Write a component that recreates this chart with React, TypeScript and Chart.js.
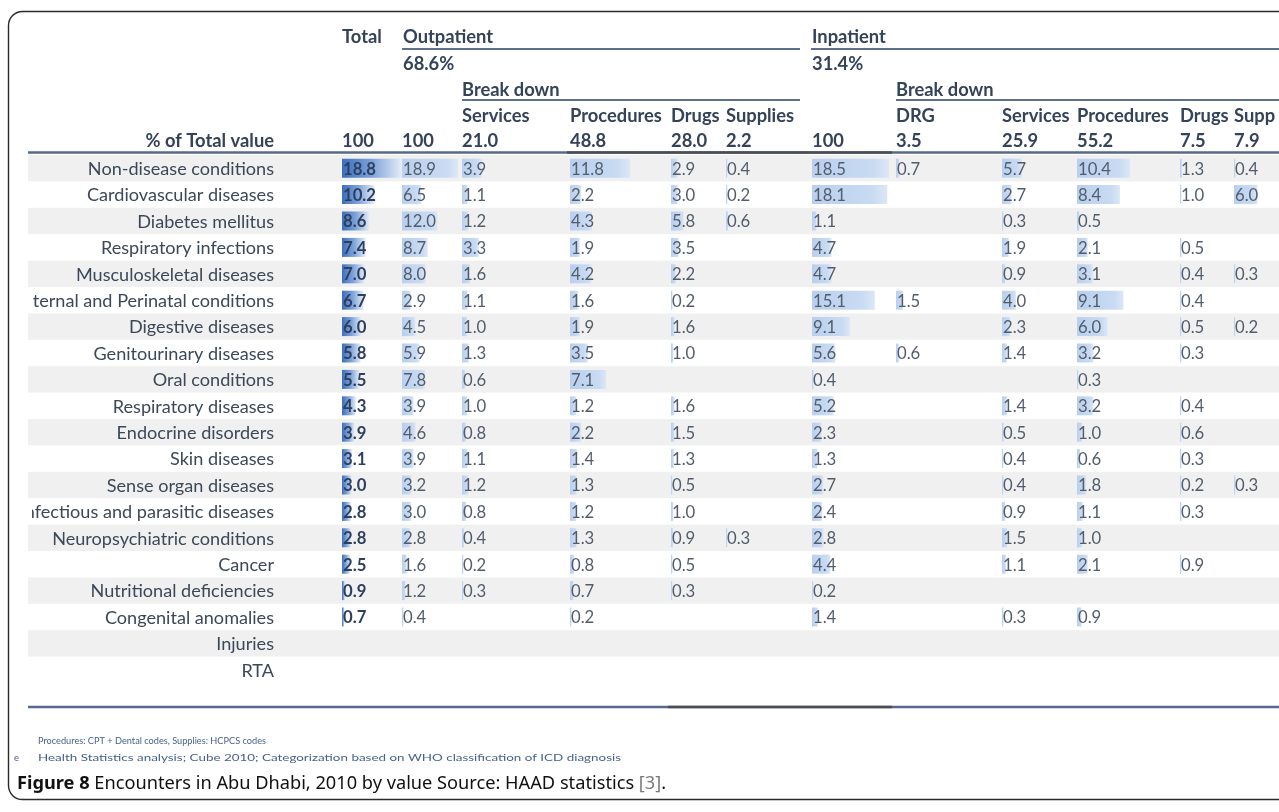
import { useEffect, useRef } from 'react';
import { Chart, registerables } from 'chart.js';

Chart.register(...registerables);

const N = null;

const ROW_LABELS = [
  'Non-disease conditions',
  'Cardiovascular diseases',
  'Diabetes mellitus',
  'Respiratory infections',
  'Musculoskeletal diseases',
  'Maternal and Perinatal conditions',
  'Digestive diseases',
  'Genitourinary diseases',
  'Oral conditions',
  'Respiratory diseases',
  'Endocrine disorders',
  'Skin diseases',
  'Sense organ diseases',
  'Infectious and parasitic diseases',
  'Neuropsychiatric conditions',
  'Cancer',
  'Nutritional deficiencies',
  'Congenital anomalies',
  'Injuries',
  'RTA',
];

const TOTAL = [18.8, 10.2, 8.6, 7.4, 7.0, 6.7, 6.0, 5.8, 5.5, 4.3, 3.9, 3.1, 3.0, 2.8, 2.8, 2.5, 0.9, 0.7, N, N];
const OUT_TOTAL = [18.9, 6.5, 12.0, 8.7, 8.0, 2.9, 4.5, 5.9, 7.8, 3.9, 4.6, 3.9, 3.2, 3.0, 2.8, 1.6, 1.2, 0.4, N, N];
const OUT_SERVICES = [3.9, 1.1, 1.2, 3.3, 1.6, 1.1, 1.0, 1.3, 0.6, 1.0, 0.8, 1.1, 1.2, 0.8, 0.4, 0.2, 0.3, N, N, N];
const OUT_PROCEDURES = [11.8, 2.2, 4.3, 1.9, 4.2, 1.6, 1.9, 3.5, 7.1, 1.2, 2.2, 1.4, 1.3, 1.2, 1.3, 0.8, 0.7, 0.2, N, N];
const OUT_DRUGS = [2.9, 3.0, 5.8, 3.5, 2.2, 0.2, 1.6, 1.0, N, 1.6, 1.5, 1.3, 0.5, 1.0, 0.9, 0.5, 0.3, N, N, N];
const OUT_SUPPLIES = [0.4, 0.2, 0.6, N, N, N, N, N, N, N, N, N, N, N, 0.3, N, N, N, N, N];
const IN_TOTAL = [18.5, 18.1, 1.1, 4.7, 4.7, 15.1, 9.1, 5.6, 0.4, 5.2, 2.3, 1.3, 2.7, 2.4, 2.8, 4.4, 0.2, 1.4, N, N];
const IN_DRG = [0.7, N, N, N, N, 1.5, N, 0.6, N, N, N, N, N, N, N, N, N, N, N, N];
const IN_SERVICES = [5.7, 2.7, 0.3, 1.9, 0.9, 4.0, 2.3, 1.4, N, 1.4, 0.5, 0.4, 0.4, 0.9, 1.5, 1.1, N, 0.3, N, N];
const IN_PROCEDURES = [10.4, 8.4, 0.5, 2.1, 3.1, 9.1, 6.0, 3.2, 0.3, 3.2, 1.0, 0.6, 1.8, 1.1, 1.0, 2.1, N, 0.9, N, N];
const IN_DRUGS = [1.3, 1.0, N, 0.5, 0.4, 0.4, 0.5, 0.3, N, 0.4, 0.6, 0.3, 0.2, 0.3, N, 0.9, N, N, N, N];
const IN_SUPPLIES = [0.4, 6.0, N, N, 0.3, N, 0.2, N, N, N, N, N, 0.3, N, N, N, N, N, N, N];

const COLUMN_NAMES = ['Total', 'Outpatient', 'Services', 'Procedures', 'Drugs', 'Supplies', 'Inpatient', 'DRG', 'Services', 'Procedures', 'Drugs', 'Supplies'];
const COLUMN_TOTALS = ['100', '100', '21.0', '48.8', '28.0', '2.2', '100', '3.5', '25.9', '55.2', '7.5', '7.9'];
const GROUP_SHARES = ['68.6%', '31.4%'];
const BREAKDOWN_LABEL = 'Break down';
const TOTAL_ROW_LABEL = '% of Total value';
const FOOTNOTES = [
  'Procedures: CPT + Dental codes, Supplies: HCPCS codes',
  'Health Statistics analysis; Cube 2010; Categorization based on WHO classification of ICD diagnosis',
];
const CAPTION_BOLD = 'Figure 8';
const CAPTION_TEXT = ' Encounters in Abu Dhabi, 2010 by value Source: HAAD statistics ';
const CAPTION_REF = '[3]';

const COLUMNS = [TOTAL, OUT_TOTAL, OUT_SERVICES, OUT_PROCEDURES, OUT_DRUGS, OUT_SUPPLIES, IN_TOTAL, IN_DRG, IN_SERVICES, IN_PROCEDURES, IN_DRUGS, IN_SUPPLIES];

// ---- layout / style (not data) ----
const W = 1279;
const H = 812;
const COL_X = [342, 402, 462, 570, 671, 726, 812, 896, 1002, 1077, 1180, 1234];
const BAR_PX_PER_UNIT = [3.2, 2.96, 5.1, 5.1, 2.2, 3.3, 4.16, 4.7, 3.5, 5.1, 1.5, 3.9];
const TABLE_LEFT = 28;
const LABEL_CLIP = 32;
const LABEL_RIGHT = 274;
const FONT = 'Lato';

function fitSize(ctx: CanvasRenderingContext2D, text: string, weight: string, family: string, target: number) {
  ctx.font = `${weight} 20px ${family}`;
  const w = ctx.measureText(text).width;
  return (20 * target) / w;
}

function barFill(context: any, isTotal: boolean) {
  const chart = context.chart;
  const raw = context.raw as [number, number] | null;
  if (!chart.chartArea || !raw || !Array.isArray(raw)) return isTotal ? '#5b88c9' : '#c3d6f0';
  const xs = chart.scales.x;
  const x0 = xs.getPixelForValue(raw[0]);
  const x1 = xs.getPixelForValue(raw[1]);
  const g = chart.ctx.createLinearGradient(x0, 0, Math.max(x1, x0 + 1), 0);
  if (isTotal) {
    g.addColorStop(0, '#3b6fbe');
    g.addColorStop(0.5, '#7ea3d9');
    g.addColorStop(1, '#e6edf8');
  } else {
    g.addColorStop(0, '#b9cfee');
    g.addColorStop(0.8, '#c9dbf2');
    g.addColorStop(1, '#dce7f6');
  }
  return g;
}

const tablePlugin = {
  id: 'tableDecor',
  beforeDraw(chart: any) {
    const { ctx } = chart;
    const y = chart.scales.y;
    ctx.save();
    ctx.fillStyle = '#ffffff';
    ctx.fillRect(0, 0, W, H);
    const band = y.getPixelForValue(1) - y.getPixelForValue(0);
    ROW_LABELS.forEach((_, i) => {
      if (i % 2 === 0) {
        ctx.fillStyle = '#f0f0f0';
        ctx.fillRect(TABLE_LEFT, y.getPixelForValue(i) - band / 2, W - TABLE_LEFT, band);
      }
    });
    ctx.restore();
  },
  afterDatasetsDraw(chart: any) {
    const { ctx } = chart;
    const y = chart.scales.y;
    ctx.save();

    const labelSize = fitSize(ctx, 'Neuropsychiatric conditions', 'normal', FONT, 222);
    const numSize = fitSize(ctx, '18.9', 'normal', FONT, 33);
    const headSize = fitSize(ctx, 'Procedures', 'bold', FONT, 92);

    // row labels (clipped at table edge)
    ctx.save();
    ctx.beginPath();
    ctx.rect(LABEL_CLIP, 0, W, H);
    ctx.clip();
    ctx.font = `${labelSize}px ${FONT}`;
    ctx.fillStyle = '#3c4858';
    ctx.textAlign = 'right';
    ctx.textBaseline = 'middle';
    ROW_LABELS.forEach((lab, i) => ctx.fillText(lab, LABEL_RIGHT, y.getPixelForValue(i) + 1));
    ctx.restore();

    // values
    ctx.textAlign = 'left';
    ctx.textBaseline = 'middle';
    COLUMNS.forEach((vals, c) => {
      ctx.font = c === 0 ? `bold ${numSize}px ${FONT}` : `${numSize}px ${FONT}`;
      ctx.fillStyle = c === 0 ? '#2d3f5f' : '#525d6c';
      vals.forEach((v, i) => {
        if (v == null) return;
        ctx.fillText(v.toFixed(1), COL_X[c] + 1, y.getPixelForValue(i) + 1);
      });
    });

    // header
    ctx.save();
    ctx.beginPath();
    ctx.rect(0, 0, 1276, H);
    ctx.clip();
    ctx.font = `bold ${headSize}px ${FONT}`;
    ctx.fillStyle = '#34435a';
    ctx.textBaseline = 'middle';
    ctx.textAlign = 'left';
    ctx.fillText(COLUMN_NAMES[0], COL_X[0], 37);
    ctx.fillText(COLUMN_NAMES[1], COL_X[1] + 1, 37);
    ctx.fillText(COLUMN_NAMES[6], COL_X[6], 37);
    ctx.fillText(GROUP_SHARES[0], COL_X[1] + 1, 64);
    ctx.fillText(GROUP_SHARES[1], COL_X[6], 64);
    ctx.fillText(BREAKDOWN_LABEL, COL_X[2], 90);
    ctx.fillText(BREAKDOWN_LABEL, COL_X[7], 90);
    [2, 3, 4, 5, 7, 8, 9, 10, 11].forEach((c) => ctx.fillText(COLUMN_NAMES[c], COL_X[c], 116));
    COLUMN_TOTALS.forEach((t, c) => ctx.fillText(t, COL_X[c], 141));
    ctx.textAlign = 'right';
    ctx.fillText(TOTAL_ROW_LABEL, LABEL_RIGHT, 141);
    ctx.restore();

    // underlines
    ctx.strokeStyle = '#5d6f8d';
    ctx.lineWidth = 2;
    const hl = (x0: number, x1: number, yy: number) => {
      ctx.beginPath();
      ctx.moveTo(x0, yy);
      ctx.lineTo(x1, yy);
      ctx.stroke();
    };
    hl(COL_X[1], 800, 49);
    hl(COL_X[6] - 1, W, 49);
    hl(COL_X[2], 800, 100);
    hl(COL_X[7], W, 100);

    // main rules
    ctx.lineWidth = 2.5;
    ctx.strokeStyle = '#56698a';
    hl(TABLE_LEFT, W, 152.5);
    hl(TABLE_LEFT, W, 707);
    ctx.strokeStyle = '#4a4d55';
    hl(567, 892, 152.5);
    hl(668, 892, 707);

    // footnotes
    ctx.fillStyle = '#46618c';
    ctx.textAlign = 'left';
    ctx.textBaseline = 'middle';
    const noteTargets = [228, 583];
    FOOTNOTES.forEach((t, i) => {
      ctx.font = `9.5px ${FONT}`;
      const w = ctx.measureText(t).width;
      ctx.save();
      ctx.translate(38, 741 + i * 17);
      ctx.scale(noteTargets[i] / w, 1);
      ctx.fillText(t, 0, 0);
      ctx.restore();
    });
    ctx.font = `9.5px ${FONT}`;
    ctx.fillText('e', 14, 758);

    // caption
    const capFamily = '"Noto Sans"';
    const full = CAPTION_BOLD + CAPTION_TEXT + CAPTION_REF + '.';
    const capSize = fitSize(ctx, full, 'normal', capFamily, 646);
    let cx = 17;
    const cy = 784;
    ctx.textBaseline = 'middle';
    ctx.font = `bold ${capSize}px ${capFamily}`;
    ctx.fillStyle = '#111111';
    ctx.fillText(CAPTION_BOLD, cx, cy);
    cx += ctx.measureText(CAPTION_BOLD).width;
    ctx.font = `${capSize}px ${capFamily}`;
    ctx.fillText(CAPTION_TEXT, cx, cy);
    cx += ctx.measureText(CAPTION_TEXT).width;
    ctx.fillStyle = '#7a7a7a';
    ctx.fillText(CAPTION_REF, cx, cy);
    cx += ctx.measureText(CAPTION_REF).width;
    ctx.fillStyle = '#111111';
    ctx.fillText('.', cx, cy);

    // frame
    ctx.strokeStyle = '#2a2a2a';
    ctx.lineWidth = 1.4;
    ctx.beginPath();
    const fx = 8.5, fy = 11.5, fw = 1300, fh = 788, r = 14;
    ctx.moveTo(fx + r, fy);
    ctx.lineTo(fx + fw, fy);
    ctx.moveTo(fx + fw, fy + fh);
    ctx.lineTo(fx + r, fy + fh);
    ctx.arcTo(fx, fy + fh, fx, fy + fh - r, r);
    ctx.lineTo(fx, fy + r);
    ctx.arcTo(fx, fy, fx + r, fy, r);
    ctx.stroke();

    ctx.restore();
  },
};

export default function App() {
  const canvasRef = useRef<HTMLCanvasElement | null>(null);

  useEffect(() => {
    const canvas = canvasRef.current;
    if (!canvas) return;
    const datasets = COLUMNS.map((vals, c) => ({
      label: COLUMN_NAMES[c],
      data: vals.map((v) => (v == null ? null : [COL_X[c], COL_X[c] + Math.max(1.5, v * BAR_PX_PER_UNIT[c])])),
      backgroundColor: (context: any) => barFill(context, c === 0),
      borderWidth: 0,
      borderSkipped: false,
      barPercentage: 0.72,
      categoryPercentage: 1,
      grouped: false,
    }));
    const chart = new Chart(canvas, {
      type: 'bar',
      data: { labels: ROW_LABELS, datasets: datasets as any },
      options: {
        indexAxis: 'y',
        animation: false,
        responsive: false,
        devicePixelRatio: 1,
        events: [],
        layout: { padding: { left: 0, right: 0, top: 155, bottom: 129 } },
        plugins: { legend: { display: false }, tooltip: { enabled: false } },
        scales: {
          x: { type: 'linear', min: 0, max: W, display: false },
          y: { type: 'category', display: false, offset: true },
        },
      },
      plugins: [tablePlugin],
    });
    return () => chart.destroy();
  }, []);

  return (
    <div style={{ position: 'fixed', left: 0, top: 0, width: W, height: H, background: '#fff' }}>
      <canvas ref={canvasRef} width={W} height={H} style={{ display: 'block', width: W, height: H }} />
    </div>
  );
}
